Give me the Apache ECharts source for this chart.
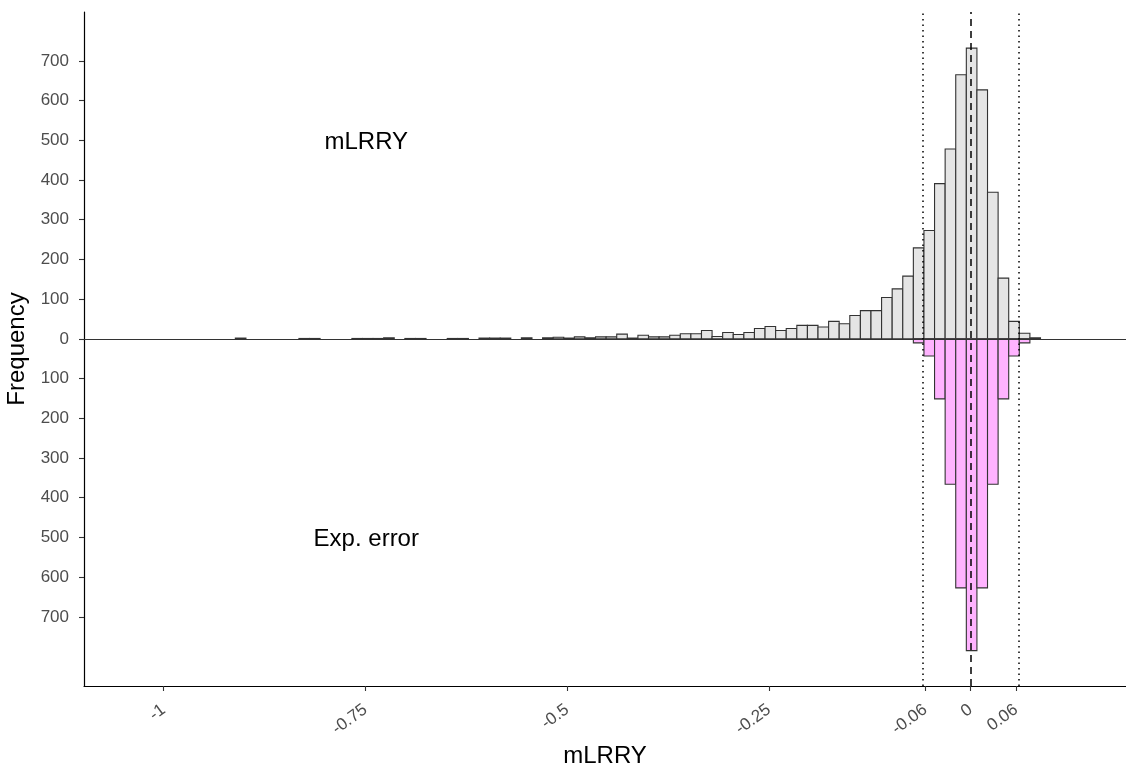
<!DOCTYPE html>
<html>
<head>
<meta charset="utf-8">
<script src="https://cdn.jsdelivr.net/npm/echarts@6/dist/echarts.min.js"></script>
<style>html,body{margin:0;padding:0;background:#fff;}#c{width:1126px;height:767px;}</style>
</head>
<body>
<div id="c"></div>
<script>
// Histogram bins: width and the left edge of the bin that contains 0
const binWidth = 0.013128;
const zeroBinStart = -0.00542;
// mLRRY counts, bins -69 .. +6 (relative to the bin containing 0)
const mlrryFirstBin = -69;
const mlrryCounts = [
  2, 0, 0, 0, 0, 0, 1, 1, 0, 0,
  0, 1, 1, 1, 3, 0, 1, 1, 0, 0,
  1, 1, 0, 2, 2, 2, 0, 3, 0, 3,
  4, 2, 5, 3, 5, 5, 12, 2, 9, 5,
  5, 9, 13, 13, 21, 6, 16, 11, 16, 26,
  31, 21, 26, 34, 34, 30, 44, 38, 59, 71,
  71, 104, 126, 158, 229, 273, 391, 478, 665, 732,
  627, 369, 153, 44, 14, 3
];
// Experimental error counts, bins -5 .. +5 (drawn downward)
const errFirstBin = -5;
const errCounts = [10, 43, 151, 366, 627, 785, 627, 366, 151, 43, 10];
// Reference lines
const cutoff = 0.0562;
const xTicks = [-1, -0.75, -0.5, -0.25, -cutoff, 0, cutoff];
const xTickLabels = ['-1', '-0.75', '-0.5', '-0.25', '-0.06', '0', '0.06'];
const yTicks = [-700, -600, -500, -400, -300, -200, -100, 0, 100, 200, 300, 400, 500, 600, 700];
const annotations = [
  { x: -0.749, y: 500, text: 'mLRRY' },
  { x: -0.749, y: -500, text: 'Exp. error' }
];

function bins(first, counts, sign) {
  return counts.map((c, i) => {
    const s = zeroBinStart + (first + i) * binWidth;
    return [s, s + binWidth, sign * c];
  });
}
function makeRender(fill) {
  return function (params, api) {
    const x0 = api.value(0), x1 = api.value(1), c = api.value(2);
    if (c === 0) return null;
    const a = api.coord([x0, c]);
    const b = api.coord([x1, 0]);
    return {
      type: 'rect',
      shape: { x: a[0], y: Math.min(a[1], b[1]), width: b[0] - a[0], height: Math.abs(b[1] - a[1]) },
      style: { fill: fill, stroke: '#333333', lineWidth: 1.1 }
    };
  };
}

const chart = echarts.init(document.getElementById('c'), null, { renderer: 'canvas' });
const FONT = 'Liberation Sans, Arial, sans-serif';
chart.setOption({
  animation: false,
  backgroundColor: '#ffffff',
  grid: { left: 84, right: 0, top: 12, bottom: 81, containLabel: false, outerBoundsMode: 'none' },
  xAxis: {
    type: 'value', min: -1.0988, max: 0.19244,
    name: 'mLRRY', nameLocation: 'middle', nameGap: 55,
    nameTextStyle: { fontSize: 24, color: '#000', fontFamily: FONT },
    axisLine: { show: true, onZero: false, lineStyle: { color: '#000', width: 1.2 } },
    axisTick: { show: true, length: 5, lineStyle: { color: '#333', width: 1.1 }, customValues: xTicks },
    axisLabel: {
      customValues: xTicks, rotate: 36, margin: 22, fontSize: 17, color: '#4d4d4d', fontFamily: FONT,
      formatter: function (v) {
        const i = xTicks.findIndex(t => Math.abs(t - v) < 1e-9);
        return i >= 0 ? xTickLabels[i] : '';
      }
    },
    splitLine: { show: false }
  },
  yAxis: {
    type: 'value', min: -874, max: 823,
    name: 'Frequency', nameLocation: 'middle', nameGap: 49, nameRotate: 90,
    nameTextStyle: { fontSize: 24, color: '#000', fontFamily: FONT },
    axisLine: { show: true, onZero: false, lineStyle: { color: '#000', width: 1.2 } },
    axisTick: { show: true, length: 5, lineStyle: { color: '#333', width: 1.1 }, customValues: yTicks },
    axisLabel: {
      customValues: yTicks, margin: 15, fontSize: 17, color: '#4d4d4d', fontFamily: FONT,
      formatter: v => String(Math.abs(v))
    },
    splitLine: { show: false }
  },
  series: [
    {
      type: 'custom', name: 'mLRRY', renderItem: makeRender('#e5e5e5'),
      data: bins(mlrryFirstBin, mlrryCounts, 1), encode: { x: [0, 1], y: 2 }, clip: true, z: 2
    },
    {
      type: 'custom', name: 'Exp. error', renderItem: makeRender('#ffb3ff'),
      data: bins(errFirstBin, errCounts, -1), encode: { x: [0, 1], y: 2 }, clip: true, z: 3
    },
    {
      type: 'scatter', symbolSize: 0, z: 5, silent: true,
      itemStyle: { opacity: 1 },
      data: annotations.map(a => ({ value: [a.x, a.y], name: a.text })),
      label: { show: true, position: 'inside', offset: [0, 2], formatter: p => p.name, fontSize: 24, color: '#000', opacity: 1, fontFamily: FONT },
      markLine: {
        silent: true, symbol: 'none', animation: false, label: { show: false },
        data: [
          { yAxis: 0, lineStyle: { color: '#333', width: 1.2, type: 'solid', opacity: 1 } },
          { xAxis: 0, lineStyle: { color: '#000', width: 1.5, type: [7, 5], opacity: 1 } },
          { xAxis: -cutoff, lineStyle: { color: '#000', width: 1.5, type: [1.5, 4], opacity: 1 } },
          { xAxis: cutoff, lineStyle: { color: '#000', width: 1.5, type: [1.5, 4], opacity: 1 } }
        ]
      }
    }
  ]
});
</script>
</body>
</html>
